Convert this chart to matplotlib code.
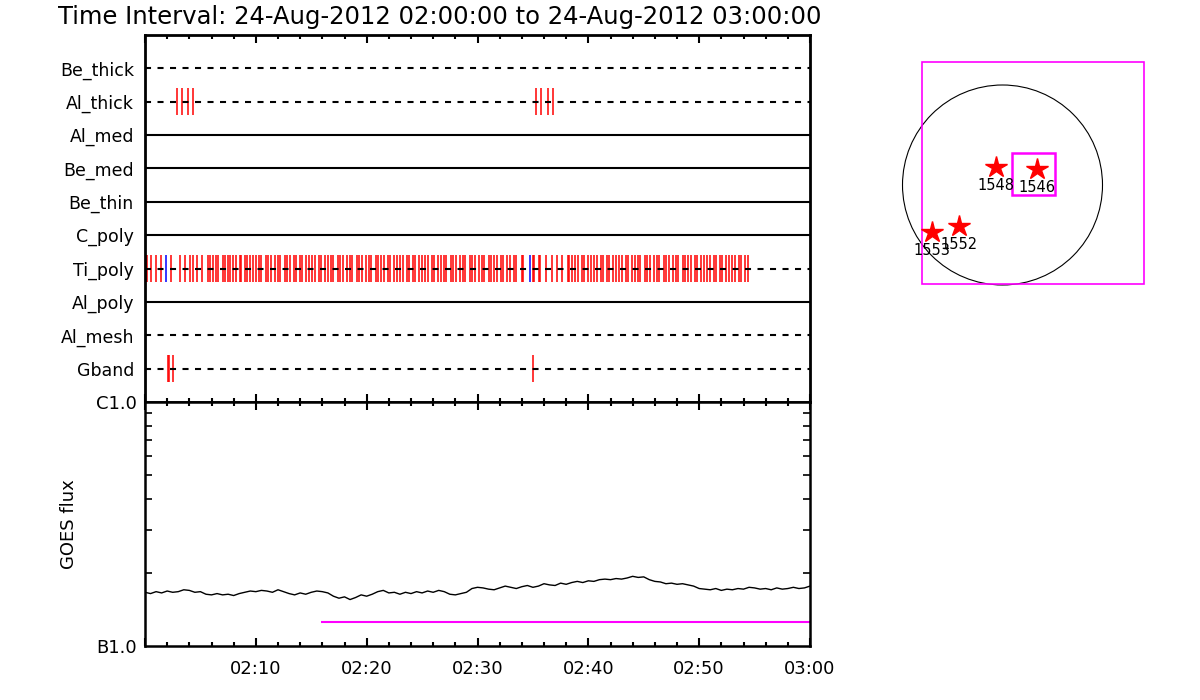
import matplotlib
matplotlib.use('Agg')
import matplotlib.pyplot as plt
import numpy as np
from matplotlib.patches import Circle, Rectangle
from matplotlib.ticker import FixedLocator, NullFormatter, LogLocator

# ---------------- data ----------------
title = "Time Interval: 24-Aug-2012 02:00:00 to 24-Aug-2012 03:00:00"
filters = ['Be_thick', 'Al_thick', 'Al_med', 'Be_med', 'Be_thin',
           'C_poly', 'Ti_poly', 'Al_poly', 'Al_mesh', 'Gband']
dashed = [True, True, False, False, False, False, True, False, True, True]

# observation times, minutes after 02:00
al_thick_red = [2.86, 3.37, 3.85, 4.36, 35.26, 35.74, 36.34, 36.85]
gband_red = [2.09, 2.17, 2.55, 35.05]
ti_poly_blue = [1.92, 34.7]
ti_poly_red = [
    0.06, 0.14, 0.57, 1.02, 1.47, 2.38, 3.18, 3.58, 4.03, 4.33, 4.69, 5.17,
    5.68, 5.84, 6.14, 6.38, 6.59, 7.04, 7.19, 7.49, 7.64, 7.94, 8.18, 8.54,
    8.69, 9.0, 9.2, 9.5, 9.74,
    10.0, 10.3, 10.5, 10.9, 11.1, 11.4, 11.7, 12.0, 12.2, 12.6, 12.8, 13.1,
    13.4, 13.6, 14.0, 14.2, 14.5, 14.8, 15.1, 15.3, 15.7, 15.9, 16.2, 16.5,
    16.8, 17.0, 17.4, 17.6, 17.9, 18.2, 18.5, 18.7, 19.1, 19.3, 19.6, 19.9,
    20.2, 20.4, 20.8, 21.0, 21.3, 21.6, 21.9, 22.1, 22.5, 22.7, 23.0, 23.3,
    23.6, 23.8, 24.2, 24.4, 24.7, 25.0, 25.3, 25.5, 25.9, 26.1, 26.4, 26.7,
    27.0, 27.2, 27.6, 27.8, 28.1, 28.4, 28.7, 28.9, 29.3, 29.5, 29.8, 30.1,
    30.4, 30.6, 31.0, 31.2, 31.5, 31.8, 32.1, 32.3, 32.7, 32.9, 33.3,
    33.5, 34.05, 34.15, 35.05, 35.13, 35.55, 35.63, 36.15, 36.7, 37.2, 37.65,
    38.15, 38.23, 38.55,
    38.8, 39.1, 39.4, 39.6, 40.0, 40.2, 40.5, 40.8, 41.1, 41.3, 41.7, 41.9,
    42.2, 42.5, 42.8, 43.0, 43.4, 43.6, 43.9, 44.2, 44.5, 44.7, 45.1, 45.3,
    45.6, 45.9, 46.2, 46.4, 46.8, 47.0, 47.3, 47.6, 47.9, 48.1, 48.5, 48.7,
    49.0, 49.3, 49.6, 49.8, 50.2, 50.4, 50.7, 51.0, 51.3, 51.5, 51.9, 52.1,
    52.4, 52.7, 53.0, 53.2, 53.6, 53.8, 54.1, 54.4]

# GOES flux (units of 1e-7 W/m^2), sampled every 0.5 min from 02:00 to 03:00
goes_flux = [
    1.66, 1.64, 1.67, 1.65, 1.68, 1.66, 1.67, 1.70, 1.69, 1.66, 1.67,
    1.63, 1.62, 1.64, 1.62, 1.63, 1.61, 1.64, 1.66, 1.68, 1.67,
    1.69, 1.68, 1.66, 1.70, 1.67, 1.64, 1.62, 1.65, 1.63, 1.66,
    1.68, 1.67, 1.65, 1.60, 1.57, 1.59, 1.55, 1.58, 1.62, 1.60,
    1.63, 1.67, 1.69, 1.65, 1.66, 1.63, 1.66, 1.64, 1.67, 1.65,
    1.68, 1.66, 1.69, 1.67, 1.63, 1.62, 1.64, 1.66, 1.72, 1.74,
    1.73, 1.71, 1.70, 1.73, 1.76, 1.74, 1.72, 1.75, 1.77, 1.74,
    1.76, 1.80, 1.78, 1.77, 1.81, 1.79, 1.82, 1.84, 1.82, 1.85,
    1.84, 1.87, 1.88, 1.87, 1.89, 1.88, 1.90, 1.93, 1.91, 1.92,
    1.87, 1.84, 1.83, 1.80, 1.81, 1.79, 1.80, 1.78, 1.76, 1.72,
    1.71, 1.70, 1.72, 1.69, 1.71, 1.70, 1.72, 1.71, 1.74, 1.73,
    1.71, 1.72, 1.70, 1.73, 1.71, 1.72, 1.74, 1.72, 1.73, 1.76]
goes_time = np.linspace(0, 60, len(goes_flux))
bar_level = 1.26e-7
bar_start, bar_end = 15.9, 60.0

xtick_labels = ['', '02:10', '02:20', '02:30', '02:40', '02:50', '03:00']

# map (arcsec)
sun_radius = 950
fov_big = (-765, -941, 2106, 2106)
fov_small = (93, -96, 405, 404)
ar_x = [-65, 325, -413, -673]
ar_y = [174, 152, -390, -444]
ar_names = ['1548', '1546', '1552', '1553']

# ---------------- figure ----------------
fig = plt.figure(figsize=(12, 7), dpi=100)
W, H = 1200, 700
ax1 = fig.add_axes([145 / W, 1 - 402 / H, 665 / W, 367 / H])
ax2 = fig.add_axes([145 / W, 1 - 646 / H, 665 / W, 244 / H])
axm = fig.add_axes([880 / W, 1 - 320 / H, 300 / W, 280 / H])

fig.text(58 / W, 1 - 24 / H, title, fontsize=17.5, va='baseline', ha='left')

# upper panel
nrow = len(filters)
for i, (name, d) in enumerate(zip(filters, dashed)):
    y = nrow - i
    if d:
        ax1.axhline(y, color='k', lw=1.5, ls=(0, (2.9, 3.1)), zorder=3)
    else:
        ax1.axhline(y, color='k', lw=1.5, zorder=3)

def row(name):
    return nrow - filters.index(name)

h = 0.41
lw_tick = 1.1
ax1.vlines(al_thick_red, row('Al_thick') - h, row('Al_thick') + h, color='red', lw=lw_tick, zorder=2)
ax1.vlines(gband_red, row('Gband') - h, row('Gband') + h, color='red', lw=lw_tick, zorder=2)
ax1.vlines(ti_poly_red, row('Ti_poly') - h, row('Ti_poly') + h, color='red', lw=lw_tick, zorder=2)
ax1.vlines(ti_poly_blue, row('Ti_poly') - h, row('Ti_poly') + h, color='blue', lw=lw_tick, zorder=2)

ax1.set_xlim(0, 60)
ax1.set_ylim(0, nrow + 1)
ax1.set_yticks([nrow - i for i in range(nrow)])
ax1.set_yticklabels(filters, fontsize=12.5)
ax1.tick_params(axis='y', length=0, pad=8)
ax1.xaxis.set_major_locator(FixedLocator(range(0, 61, 10)))
ax1.xaxis.set_minor_locator(FixedLocator(range(0, 61, 2)))
ax1.tick_params(axis='x', which='both', direction='in', top=True, bottom=True,
                labelbottom=False, width=1.5)
ax1.tick_params(axis='x', which='major', length=6)
ax1.tick_params(axis='x', which='minor', length=3)
for s in ax1.spines.values():
    s.set_linewidth(2)

# lower panel
ax2.plot(goes_time, np.array(goes_flux) * 1e-7, color='k', lw=1.0)
ax2.hlines(bar_level, bar_start, bar_end, color='#ff00ff', lw=1.5)
ax2.set_yscale('log')
ax2.set_ylim(1e-7, 1e-6)
ax2.set_xlim(0, 60)
ax2.set_yticks([1e-7, 1e-6])
ax2.set_yticklabels(['B1.0', 'C1.0'], fontsize=13)
ax2.yaxis.set_minor_locator(LogLocator(base=10, subs=np.arange(2, 10)))
ax2.yaxis.set_minor_formatter(NullFormatter())
ax2.tick_params(axis='y', which='both', direction='in', left=True, right=True, width=1.2, pad=6)
ax2.tick_params(axis='y', which='major', length=0)
ax2.tick_params(axis='y', which='minor', length=5)
ax2.xaxis.set_major_locator(FixedLocator(range(0, 61, 10)))
ax2.xaxis.set_minor_locator(FixedLocator(range(0, 61, 2)))
ax2.set_xticklabels(xtick_labels, fontsize=13)
ax2.tick_params(axis='x', which='both', direction='in', top=True, bottom=True, width=1.5, pad=10)
ax2.tick_params(axis='x', which='major', length=6)
ax2.tick_params(axis='x', which='minor', length=3)
ax2.set_ylabel('GOES flux', fontsize=13, labelpad=13)
for s in ax2.spines.values():
    s.set_linewidth(1.8)

# map
axm.set_xlim(-1163.75, 1686.25)
axm.set_ylim(-1282.5, 1377.5)
axm.axis('off')
axm.add_patch(Circle((0, 0), sun_radius, fill=False, color='k', lw=0.8))
axm.add_patch(Rectangle(fov_big[:2], fov_big[2], fov_big[3], fill=False, ec='#ff00ff', lw=1.2))
axm.add_patch(Rectangle(fov_small[:2], fov_small[2], fov_small[3], fill=False, ec='#ff00ff', lw=1.8))
axm.plot(ar_x, ar_y, ls='none', marker='*', ms=16, color='red', mec='red')
for x, y, n in zip(ar_x, ar_y, ar_names):
    axm.annotate(n, (x, y), xytext=(0, -8), textcoords='offset points',
                 ha='center', va='top', fontsize=10.5)

fig.savefig('out.png', dpi=100)
